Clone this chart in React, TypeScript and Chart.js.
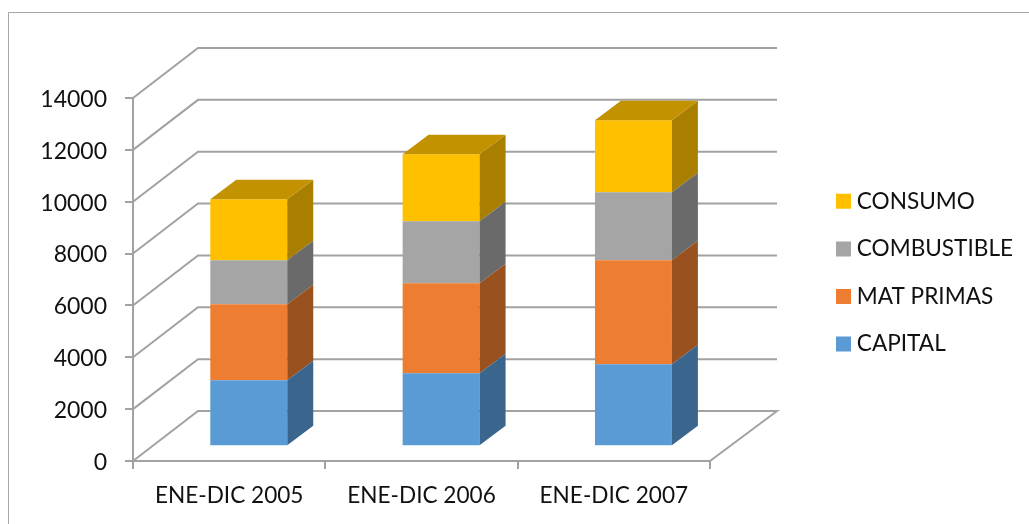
import React, { useEffect, useRef } from "react";
import { Chart, registerables } from "chart.js";

Chart.register(...registerables);

const categories = ["ENE-DIC 2005", "ENE-DIC 2006", "ENE-DIC 2007"];
const capital = [2545, 2815, 3160];
const matPrimas = [2930, 3470, 4010];
const combustible = [1700, 2390, 2620];
const consumo = [2350, 2585, 2780];

const seriesNames = ["CAPITAL", "MAT PRIMAS", "COMBUSTIBLE", "CONSUMO"];
const frontColors = ["#5B9BD5", "#ED7D31", "#A5A5A5", "#FFC000"];
const sideColors = ["#3A668E", "#9A5120", "#6A6A6A", "#A87F00"];
const topColor = "#C29200";

const GRID = "#A2A2A2";
const FONT = "Lato";
const WALL_DX = 66;
const WALL_DY = 50;
const BAR_DX = 19.6;
const BAR_DY = 14.8;
const SIDE_DX = 26;
const SIDE_DY = 19.5;

const poly = (ctx: CanvasRenderingContext2D, pts: number[][], color: string) => {
  ctx.beginPath();
  pts.forEach(([x, y], i) => (i ? ctx.lineTo(x, y) : ctx.moveTo(x, y)));
  ctx.closePath();
  ctx.fillStyle = color;
  ctx.fill();
};

const scene = {
  id: "scene",
  beforeDraw(chart: any) {
    const { ctx, width, height } = chart;
    ctx.save();
    ctx.strokeStyle = "#A6A6A6";
    ctx.lineWidth = 1;
    ctx.beginPath();
    ctx.moveTo(8.5, height);
    ctx.lineTo(8.5, 12.5);
    ctx.lineTo(width, 12.5);
    ctx.stroke();
    ctx.restore();
  },
  afterLayout(chart: any) {
    const legend = chart.legend;
    const pad = legend.options.labels.padding;
    legend.left = 841.5 - pad;
    legend.right = chart.width;
    legend.top = 190 - pad;
    legend.bottom = chart.height;
  },
  beforeDatasetsDraw(chart: any) {
    const { ctx, chartArea, scales } = chart;
    const { left, right, bottom } = chartArea;
    ctx.save();
    ctx.strokeStyle = GRID;
    ctx.lineWidth = 2;
    ctx.lineJoin = "miter";
    scales.y.ticks.forEach((t: any) => {
      const y = scales.y.getPixelForValue(t.value);
      ctx.beginPath();
      ctx.moveTo(left, y);
      ctx.lineTo(left + WALL_DX - 1, y - WALL_DY);
      ctx.lineTo(right + WALL_DX + 1, y - WALL_DY);
      if (t.value === 0) ctx.lineTo(right, bottom);
      ctx.stroke();
    });
    ctx.restore();
  },
  beforeDatasetDraw(chart: any) {
    chart.ctx.save();
    chart.ctx.translate(BAR_DX, -BAR_DY);
  },
  afterDatasetDraw(chart: any, args: any) {
    const { ctx } = chart;
    const i = args.index;
    const last = chart.data.datasets.length - 1;
    args.meta.data.forEach((bar: any) => {
      const p = bar.getProps(["x", "y", "base", "width"], true);
      const r = p.x + p.width / 2;
      const l = p.x - p.width / 2;
      poly(ctx, [[r, p.y], [r + SIDE_DX, p.y - SIDE_DY], [r + SIDE_DX, p.base - SIDE_DY], [r, p.base]], sideColors[i]);
      if (i === last) {
        poly(ctx, [[l, p.y], [l + SIDE_DX, p.y - SIDE_DY], [r + SIDE_DX, p.y - SIDE_DY], [r, p.y]], topColor);
      }
    });
    ctx.restore();
  },
};

export default function App() {
  const ref = useRef<HTMLCanvasElement>(null);
  useEffect(() => {
    const values = [capital, matPrimas, combustible, consumo];
    const chart = new Chart(ref.current as HTMLCanvasElement, {
      type: "bar",
      data: {
        labels: categories,
        datasets: seriesNames.map((name, i) => ({
          label: name,
          data: values[i],
          backgroundColor: frontColors[i],
          borderWidth: 0,
          categoryPercentage: 1,
          barPercentage: 0.4,
          clip: false,
        })),
      },
      options: {
        responsive: false,
        animation: false,
        devicePixelRatio: 1,
        layout: { padding: { top: 98, right: 319, left: 0, bottom: 0 } },
        scales: {
          x: {
            stacked: true,
            afterFit: (s: any) => { s.height = 63; },
            grid: { drawOnChartArea: false, color: GRID, tickColor: GRID, tickLength: 8, lineWidth: 2 },
            border: { color: GRID, width: 2 },
            ticks: { color: "#111", font: { family: FONT, size: 22.6 }, padding: 13, maxRotation: 0, autoSkip: false },
          },
          y: {
            stacked: true,
            min: 0,
            max: 14000,
            afterFit: (s: any) => { s.width = 133; },
            grid: { drawOnChartArea: false, color: GRID, tickColor: GRID, tickLength: 8, lineWidth: 2 },
            border: { color: GRID, width: 2 },
            ticks: {
              color: "#111",
              stepSize: 2000,
              font: { family: FONT, size: 23 },
              padding: 18,
              labelOffset: 1.5,
              callback: (v: any) => String(v),
            },
          },
        },
        plugins: {
          title: { display: false },
          tooltip: { enabled: false },
          legend: {
            position: "chartArea",
            align: "start",
            reverse: true,
            labels: {
              color: "#111",
              font: { family: FONT, size: 22.6 },
              boxWidth: 4,
              boxHeight: 4,
              padding: 25,
              generateLabels: (c: any) =>
                Chart.defaults.plugins.legend.labels.generateLabels(c).map((item: any) => ({
                  ...item,
                  lineWidth: 11,
                  strokeStyle: item.fillStyle,
                })),
            },
          },
        },
      } as any,
      plugins: [scene],
    });
    return () => chart.destroy();
  }, []);
  return (
    <canvas
      ref={ref}
      width={1029}
      height={524}
      style={{ position: "fixed", left: 0, top: 0, display: "block", background: "#fff" }}
    />
  );
}
